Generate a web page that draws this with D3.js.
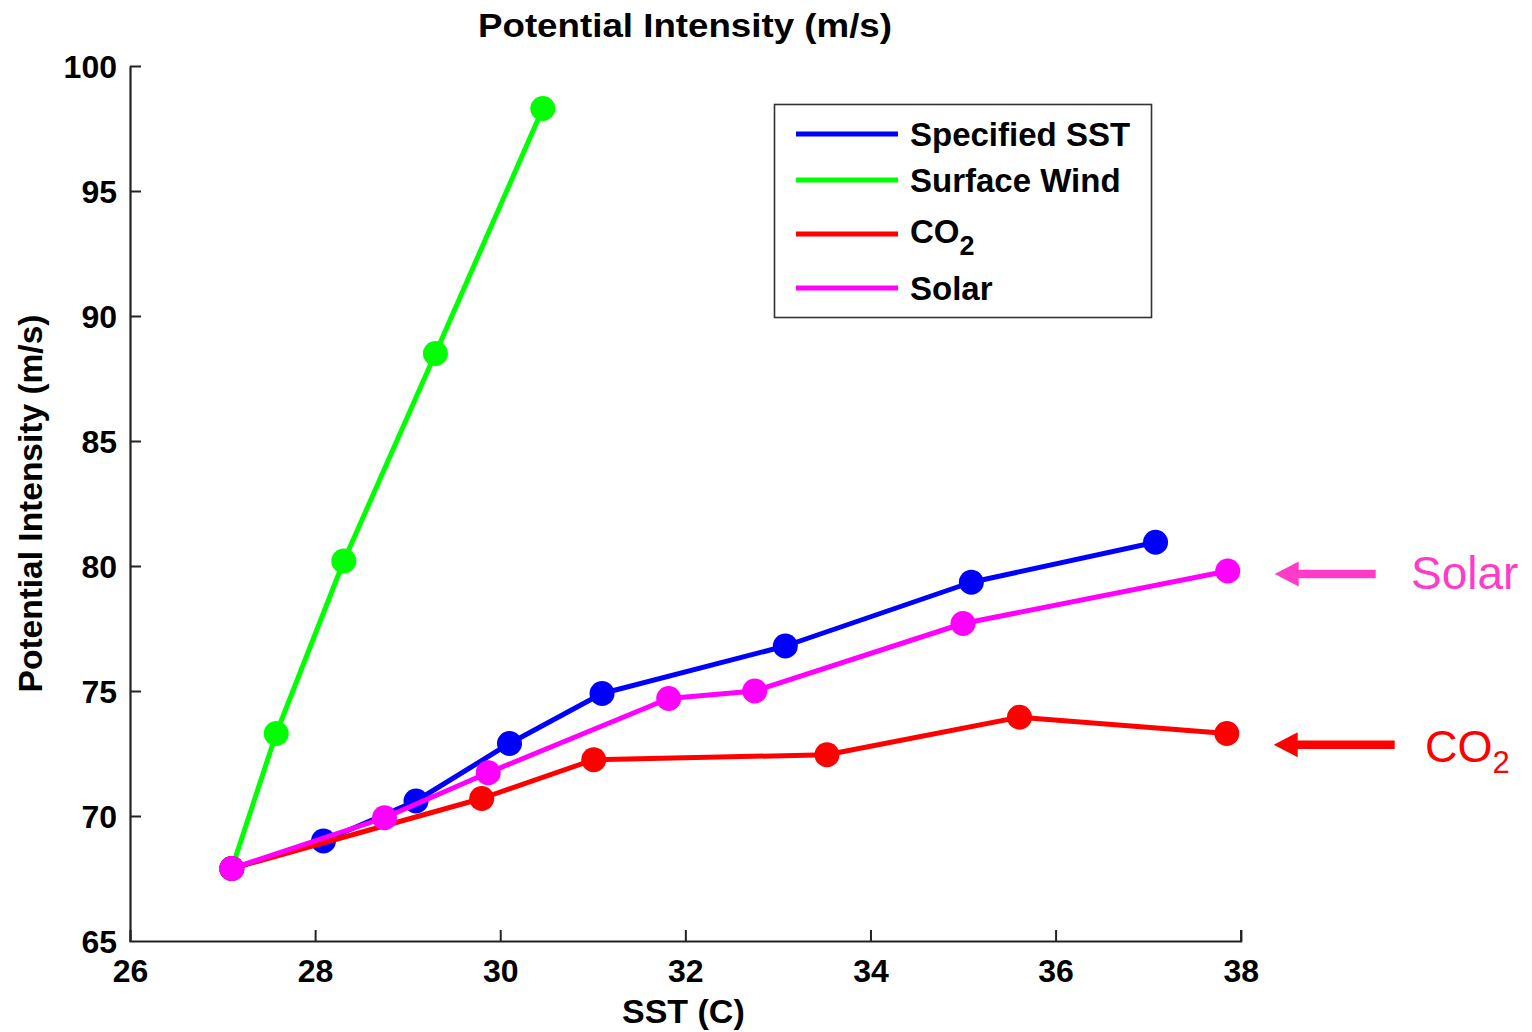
<!DOCTYPE html>
<html>
<head>
<meta charset="utf-8">
<script src="https://cdn.jsdelivr.net/npm/d3@7"></script>
<style>
  html, body { margin: 0; padding: 0; background: #fff; }
  svg { display: block; }
  text { font-family: "Liberation Sans", Arial, Helvetica, sans-serif; }
</style>
</head>
<body>
<svg id="chart" width="1532" height="1032"></svg>
<script>
// Potential intensity vs. SST for four forcing experiments
const xTicks = [26, 28, 30, 32, 34, 36, 38];
const yTicks = [65, 70, 75, 80, 85, 90, 95, 100];

const sstSpecified = [27.1, 28.09, 29.09, 30.10, 31.10, 33.08, 35.09, 37.08];
const piSpecified  = [67.9, 69.0, 70.6, 72.9, 74.9, 76.8, 79.35, 80.95];

const sstWind = [27.1, 27.58, 28.31, 29.30, 30.46];
const piWind  = [67.9, 73.3, 80.2, 88.5, 98.3];

const sstCO2 = [27.1, 29.80, 31.01, 33.53, 35.61, 37.85];
const piCO2  = [67.9, 70.7, 72.25, 72.45, 73.95, 73.3];

const sstSolar = [27.1, 28.75, 29.87, 31.82, 32.75, 35.0, 37.86];
const piSolar  = [67.9, 69.93, 71.73, 74.7, 75.0, 77.7, 79.8];

const seriesNames = ["Specified SST", "Surface Wind", "CO2", "Solar"];

const series = [
  { name: seriesNames[0], color: "#0000ff", xs: sstSpecified, ys: piSpecified },
  { name: seriesNames[1], color: "#00ff00", xs: sstWind, ys: piWind },
  { name: seriesNames[2], color: "#ff0000", xs: sstCO2, ys: piCO2 },
  { name: seriesNames[3], color: "#ff00ff", xs: sstSolar, ys: piSolar }
];

const svg = d3.select("#chart");
const x = d3.scaleLinear().domain([26, 38]).range([130, 1240.7]);
const y = d3.scaleLinear().domain([65, 100]).range([941, 66]);

// axes (left and bottom only, ticks pointing inward)
const axisColor = "#222";
const xAxis = svg.append("g").attr("transform", `translate(0,${y(65)})`)
  .call(d3.axisBottom(x).tickValues(xTicks).tickSizeInner(-11).tickSizeOuter(-11).tickPadding(18));
const yAxis = svg.append("g").attr("transform", `translate(${x(26)},0)`)
  .call(d3.axisLeft(y).tickValues(yTicks).tickSizeInner(-11).tickSizeOuter(0).tickPadding(13));

[xAxis, yAxis].forEach(g => {
  g.select(".domain").attr("stroke", axisColor).attr("stroke-width", 2.2);
  g.selectAll(".tick line").attr("stroke", axisColor).attr("stroke-width", 2);
  g.selectAll(".tick text")
    .attr("fill", "#000")
    .attr("font-size", 32)
    .attr("font-weight", "bold")
    .attr("font-family", "Liberation Sans, Arial, sans-serif");
});
yAxis.selectAll(".tick text").attr("dy", "0.36em");
// the last y tick (100) has its tick mark at the top end of the axis
yAxis.selectAll(".tick").filter(d => d === 65).select("line").remove();
xAxis.selectAll(".tick").filter(d => d === 26).select("line").remove();

// series lines and markers
const line = d3.line().x(d => x(d[0])).y(d => y(d[1]));
series.forEach(s => {
  const pts = s.xs.map((v, i) => [v, s.ys[i]]);
  const g = svg.append("g");
  g.append("path").datum(pts)
    .attr("d", line)
    .attr("fill", "none")
    .attr("stroke", s.color)
    .attr("stroke-width", 5)
    .attr("stroke-linejoin", "round");
  g.selectAll("circle").data(pts).enter().append("circle")
    .attr("cx", d => x(d[0]))
    .attr("cy", d => y(d[1]))
    .attr("r", 12.5)
    .attr("fill", s.color);
});

// title and axis labels
svg.append("text")
  .attr("x", 685).attr("y", 37)
  .attr("text-anchor", "middle")
  .attr("font-size", 34).attr("font-weight", "bold")
  .attr("textLength", 414).attr("lengthAdjust", "spacingAndGlyphs")
  .text("Potential Intensity (m/s)");

svg.append("text")
  .attr("x", (x(26) + x(38)) / 2 - 2).attr("y", 1023)
  .attr("text-anchor", "middle")
  .attr("font-size", 34).attr("font-weight", "bold")
  .text("SST (C)");

svg.append("text")
  .attr("transform", `translate(42,${(y(65) + y(100)) / 2}) rotate(-90)`)
  .attr("text-anchor", "middle")
  .attr("font-size", 33.5).attr("font-weight", "bold")
  .text("Potential Intensity (m/s)");

// legend
const legend = svg.append("g");
legend.append("rect")
  .attr("x", 774.5).attr("y", 104.5)
  .attr("width", 377).attr("height", 213)
  .attr("fill", "#fff")
  .attr("stroke", "#333").attr("stroke-width", 1.6);

const rowY = [134, 180, 234, 288];
series.forEach((s, i) => {
  legend.append("line")
    .attr("x1", 796).attr("x2", 898)
    .attr("y1", rowY[i]).attr("y2", rowY[i])
    .attr("stroke", s.color).attr("stroke-width", 5);
  const t = legend.append("text")
    .attr("x", 910)
    .attr("font-size", 33).attr("font-weight", "bold")
    .attr("fill", "#000");
  if (s.name === "CO2") {
    t.attr("y", rowY[i] + 9);
    t.append("tspan").text("CO");
    t.append("tspan").attr("font-size", 27).attr("dy", 12).text("2");
  } else {
    t.attr("y", rowY[i] + 11.5).text(s.name);
  }
});

// side annotations with arrows pointing at the end of each curve
function arrow(yVal, x0px, x1px, color) {
  const yy = y(yVal);
  const headLen = 24, headHalf = 12.5, shaft = 8.5;
  svg.append("path")
    .attr("d", `M${x0px},${yy} L${x0px + headLen},${yy - headHalf} L${x0px + headLen},${yy - shaft / 2}
                L${x1px},${yy - shaft / 2} L${x1px},${yy + shaft / 2} L${x0px + headLen},${yy + shaft / 2}
                L${x0px + headLen},${yy + headHalf} Z`)
    .attr("fill", color);
}

const solarColor = "#ff3cc8";
arrow(piSolar[piSolar.length - 1] - 0.12, x(38) + 34, x(38) + 135, solarColor);
svg.append("text")
  .attr("x", 1411).attr("y", 589)
  .attr("font-size", 46).attr("fill", solarColor)
  .text("Solar");

arrow(piCO2[piCO2.length - 1] - 0.45, x(38) + 33, x(38) + 154, "#ff0000");
const co2Label = svg.append("text")
  .attr("x", 1425).attr("y", 762)
  .attr("font-size", 45).attr("fill", "#ff0000");
co2Label.append("tspan").text("CO");
co2Label.append("tspan").attr("font-size", 31).attr("dy", 11).text("2");
</script>
</body>
</html>
